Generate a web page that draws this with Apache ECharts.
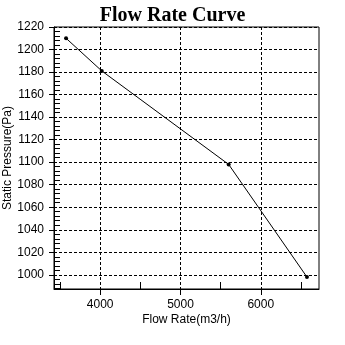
<!DOCTYPE html>
<html>
<head>
<meta charset="utf-8">
<script src="https://cdn.jsdelivr.net/npm/echarts@6/dist/echarts.min.js"></script>
<style>
html,body{margin:0;padding:0;background:#fff;}
#c{width:345px;height:345px;}
</style>
</head>
<body>
<div id="c"></div>
<script>
var flowRate = [3575, 4020, 5600, 6575];
var staticPressure = [1210, 1181, 1098, 998];
var xTickLabels = [4000, 5000, 6000];
var yTickLabels = [1000, 1020, 1040, 1060, 1080, 1100, 1120, 1140, 1160, 1180, 1200, 1220];
var titleText = 'Flow Rate Curve';
var xName = 'Flow Rate(m3/h)';
var yName = 'Static Pressure(Pa)';

var points = flowRate.map(function (x, i) { return [x, staticPressure[i]]; });
var FONT = "'Liberation Sans', Arial, sans-serif";
var xMin = 3425, xMax = 6725, yMin = 987.4, yMax = 1220;
function plain(v) { return String(v); }

var chart = echarts.init(document.getElementById('c'), null, {renderer: 'canvas'});
chart.setOption({
  backgroundColor: '#fff',
  animation: false,
  title: {
    text: titleText, left: 'center', top: 1,
    textStyle: {fontFamily: "'Liberation Serif', 'Times New Roman', serif", fontWeight: 'bold', fontSize: 20, color: '#000'}
  },
  grid: {left: 54, right: 26, top: 27, bottom: 56, containLabel: false, outerBoundsMode: 'none',
    show: true, borderColor: '#000', borderWidth: 1, backgroundColor: 'transparent'},
  xAxis: [{
    type: 'value', min: xMin, max: xMax, splitNumber: 3, position: 'bottom',
    axisLine: {show: true, lineStyle: {color: '#000', width: 1}},
    axisTick: {show: true, length: 6, inside: false, customValues: xTickLabels, lineStyle: {color: '#000'}},
    axisLabel: {show: true, customValues: xTickLabels, formatter: plain, margin: 10, color: '#000', fontFamily: FONT, fontSize: 12},
    splitLine: {show: true, lineStyle: {color: '#000', type: [3, 2], width: 1}},
    minorTick: {show: false},
    name: xName, nameLocation: 'middle', nameGap: 25, nameMoveOverlap: false,
    nameTextStyle: {color: '#000', fontFamily: FONT, fontSize: 12}
  }, {
    type: 'value', min: xMin, max: xMax, splitNumber: 3, position: 'bottom',
    axisLine: {show: false},
    axisTick: {show: false, inside: true},
    axisLabel: {show: false},
    splitLine: {show: false},
    minorTick: {show: true, splitNumber: 2, length: 7, lineStyle: {color: '#000', width: 1}}
  }],
  yAxis: [{
    type: 'value', min: yMin, max: yMax, splitNumber: 12, position: 'left',
    axisLine: {show: true, lineStyle: {color: '#000', width: 1}},
    axisTick: {show: true, length: 5, inside: false, customValues: yTickLabels, lineStyle: {color: '#000'}},
    axisLabel: {show: true, customValues: yTickLabels, formatter: plain, margin: 10, color: '#000', fontFamily: FONT, fontSize: 12},
    splitLine: {show: true, lineStyle: {color: '#000', type: [3, 2], width: 1}},
    minorTick: {show: false},
    name: yName, nameLocation: 'middle', nameGap: 40, nameRotate: 90, nameMoveOverlap: false,
    nameTextStyle: {color: '#000', fontFamily: FONT, fontSize: 12}
  }, {
    type: 'value', min: yMin, max: yMax, splitNumber: 12, position: 'left',
    axisLine: {show: false},
    axisTick: {show: false, inside: true},
    axisLabel: {show: false},
    splitLine: {show: false},
    minorTick: {show: true, splitNumber: 5, length: 6, lineStyle: {color: '#000', width: 1}}
  }],
  series: [{
    type: 'line', xAxisIndex: 0, yAxisIndex: 0,
    data: points,
    symbol: 'circle', symbolSize: 4, showSymbol: true,
    itemStyle: {color: '#000'},
    lineStyle: {color: '#000', width: 1}
  }]
});
</script>
</body>
</html>
